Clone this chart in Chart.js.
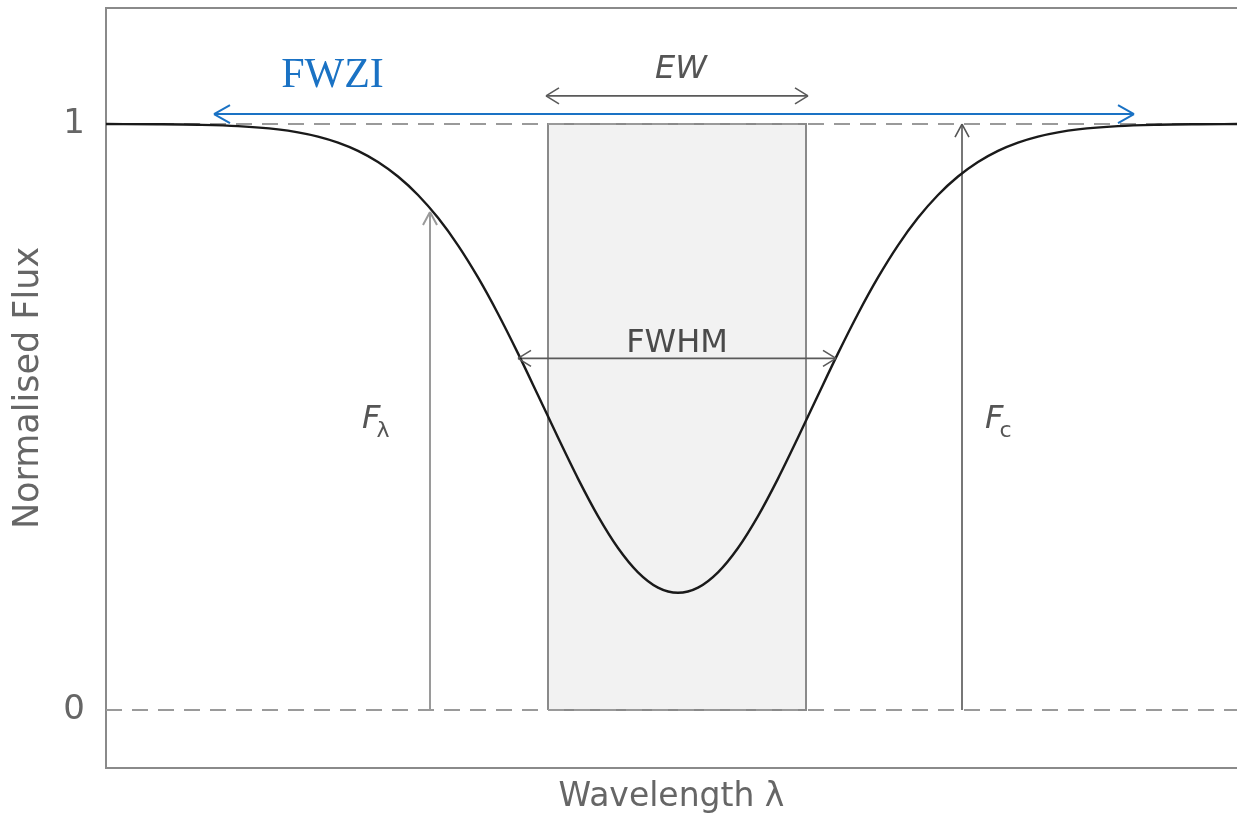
<!DOCTYPE html>
<html>
<head>
<meta charset="utf-8">
<script src="https://cdn.jsdelivr.net/npm/chart.js@4.4.1/dist/chart.umd.min.js"></script>
<style>
  html, body { margin: 0; padding: 0; background: #fff; }
  #wrap { width: 1237px; height: 821px; }
</style>
</head>
<body>
<div id="wrap"><canvas id="lineChart" width="1237" height="821"></canvas></div>
<script>
// absorption line profile, relative wavelength vs normalised flux
const waveX = [-57.2, -52, -48, -44, -40, -38, -36, -34, -32, -30, -28, -26, -24, -22, -20, -18, -16, -14, -12, -10, -8, -6, -4, -2,
    0, 2, 4, 6, 8, 10, 12, 14, 16, 18, 20, 22, 24, 26, 28, 30, 32, 34, 36, 38, 40, 44, 48, 52, 55.9];
const fluxY = [1.000, 0.9996, 0.9987, 0.9964, 0.9908, 0.9858, 0.9786, 0.9683, 0.9542, 0.9352, 0.9104, 0.8789, 0.8399, 0.7930, 0.7382, 0.6763, 0.6086, 0.5372, 0.4649, 0.3949, 0.3309, 0.2765, 0.2350, 0.2089,
    0.200, 0.2089, 0.2350, 0.2765, 0.3309, 0.3949, 0.4649, 0.5372, 0.6086, 0.6763, 0.7382, 0.7930, 0.8399, 0.8789, 0.9104, 0.9352, 0.9542, 0.9683, 0.9786, 0.9858, 0.9908, 0.9964, 0.9987, 0.9996, 1.000];

const yTicks = [0, 1];
const continuum = 1;
const zeroLevel = 0;
const xRange = [-57.2, 55.9];
const yRange = [-0.099, 1.198];

// equivalent width box edges
const ewBox = [-13.0, 12.8];
// arrows: [x0, y0, x1, y1]
const fwziArrow = [-46.4, 1.017, 45.6, 1.017];
const ewArrow = [-13.2, 1.048, 13.0, 1.048];
const fwhmArrow = [-16.0, 0.6, 15.8, 0.6];
const fLambdaArrow = [-24.8, 0, -24.8, 0.85];
const fContArrow = [28.4, 0, 28.4, 1];

const toPts = a => [{x: a[0], y: a[1]}, {x: a[2], y: a[3]}];

const labels = [
    {text: 'FWZI', x: -34.55, y: 1.063, font: '42px "Liberation Serif", serif', color: '#1a72c4'},
    {text: 'EW', x: 0.3, y: 1.0785, font: 'oblique 32px "DejaVu Sans", sans-serif', color: '#555'},
    {text: 'FWHM', x: -0.1, y: 0.611, font: '32px "DejaVu Sans", sans-serif', color: '#4a4a4a'}
];
const subLabels = [
    {main: 'F', sub: 'λ', x: -31.6, y: 0.481, color: '#555'},
    {main: 'F', sub: 'c', x: 30.7, y: 0.481, color: '#555'}
];

// open chevron arrow heads at line ends
const arrowHeads = {
    id: 'arrowHeads',
    afterDatasetsDraw(chart) {
        const ctx = chart.ctx;
        chart.data.datasets.forEach((ds, i) => {
            if (!ds.arrows) return;
            const pts = chart.getDatasetMeta(i).data;
            const a = pts[0], b = pts[pts.length - 1];
            const ends = ds.arrows === 'both' ? [[a, b], [b, a]] : [[b, a]];
            ctx.save();
            ctx.strokeStyle = ds.borderColor;
            ctx.lineWidth = ds.borderWidth;
            ends.forEach(([tip, from]) => {
                const ang = Math.atan2(tip.y - from.y, tip.x - from.x);
                const len = ds.headLen, w = ds.headWidth;
                ctx.beginPath();
                for (const s of [1, -1]) {
                    ctx.moveTo(tip.x - len * Math.cos(ang) + s * w * Math.sin(ang),
                               tip.y - len * Math.sin(ang) - s * w * Math.cos(ang));
                    ctx.lineTo(tip.x, tip.y);
                }
                ctx.stroke();
            });
            ctx.restore();
        });
    }
};

// text labels and top frame line
const annotations = {
    id: 'annotations',
    afterDraw(chart) {
        const ctx = chart.ctx;
        const xs = chart.scales.x, ys = chart.scales.y;
        const area = chart.chartArea;
        ctx.save();
        ctx.strokeStyle = '#8a8a8a';
        ctx.lineWidth = 2;
        ctx.beginPath();
        ctx.moveTo(area.left - 1, area.top);
        ctx.lineTo(area.right, area.top);
        ctx.stroke();

        ctx.textBaseline = 'alphabetic';
        labels.forEach(l => {
            ctx.font = l.font;
            ctx.fillStyle = l.color;
            ctx.textAlign = 'center';
            ctx.fillText(l.text, xs.getPixelForValue(l.x), ys.getPixelForValue(l.y));
        });
        subLabels.forEach(l => {
            const px = xs.getPixelForValue(l.x), py = ys.getPixelForValue(l.y);
            ctx.textAlign = 'left';
            ctx.fillStyle = l.color;
            ctx.font = 'oblique 32px "DejaVu Sans", sans-serif';
            ctx.fillText(l.main, px, py);
            const w = ctx.measureText(l.main).width;
            ctx.font = '22px "DejaVu Sans", sans-serif';
            ctx.fillText(l.sub, px + w - 4, py + 9);
        });
        ctx.restore();
    }
};

const lineDs = (data, color, width, extra) => Object.assign({
    data: data, showLine: true, borderColor: color, borderWidth: width,
    pointRadius: 0, fill: false
}, extra);

const chartConfig = {
    type: 'scatter',
    data: {
        datasets: [
            lineDs(waveX.map((x, i) => ({x: x, y: fluxY[i]})), '#1a1a1a', 2.4,
                {cubicInterpolationMode: 'monotone', order: 0}),
            lineDs(toPts(fwziArrow), '#1a72c4', 2, {arrows: 'both', headLen: 16, headWidth: 9, order: 1}),
            lineDs(toPts(ewArrow), '#5a5a5a', 1.6, {arrows: 'both', headLen: 13, headWidth: 8, order: 1}),
            lineDs(toPts(fwhmArrow), '#5a5a5a', 1.6, {arrows: 'both', headLen: 13, headWidth: 8, order: 1}),
            lineDs(toPts(fLambdaArrow), '#9a9a9a', 2, {arrows: 'end', headLen: 13, headWidth: 7, order: 1}),
            lineDs(toPts(fContArrow), '#555', 1.6, {arrows: 'end', headLen: 13, headWidth: 7, order: 1}),
            lineDs([{x: xRange[0], y: continuum}, {x: xRange[1], y: continuum}], '#9a9a9a', 2,
                {borderDash: [16, 10], order: 2}),
            lineDs([{x: xRange[0], y: zeroLevel}, {x: xRange[1], y: zeroLevel}], '#9a9a9a', 2,
                {borderDash: [16, 10], order: 2}),
            // EW box outline
            lineDs([{x: ewBox[0], y: zeroLevel}, {x: ewBox[0], y: continuum}, {x: ewBox[1], y: continuum},
                    {x: ewBox[1], y: zeroLevel}, {x: ewBox[0], y: zeroLevel}], '#8a8a8a', 2, {order: 3}),
            // EW box shading
            lineDs([{x: ewBox[0], y: continuum}, {x: ewBox[1], y: continuum}], 'rgba(0,0,0,0)', 0,
                {fill: 'origin', backgroundColor: '#f2f2f2', order: 4})
        ]
    },
    options: {
        responsive: false,
        animation: false,
        devicePixelRatio: 1,
        layout: {padding: {top: 8, right: 0, left: 0, bottom: 0}},
        plugins: {legend: {display: false}, tooltip: {enabled: false}},
        scales: {
            x: {
                type: 'linear',
                min: xRange[0],
                max: xRange[1],
                grid: {display: false, drawTicks: false},
                border: {display: true, color: '#8a8a8a', width: 2},
                ticks: {display: false},
                title: {
                    display: true, text: 'Wavelength λ', color: '#666',
                    font: {family: 'DejaVu Sans', size: 33}, padding: {top: 4, bottom: 4}
                },
                afterFit(axis) {
                    axis.height = 53;
                    axis.paddingLeft = 0;
                    axis.paddingRight = 0;
                }
            },
            y: {
                min: yRange[0],
                max: yRange[1],
                grid: {display: false, drawTicks: false},
                border: {display: true, color: '#8a8a8a', width: 2},
                afterBuildTicks(axis) { axis.ticks = yTicks.map(v => ({value: v})); },
                ticks: {
                    color: '#666', padding: 21,
                    font: {family: 'DejaVu Sans', size: 34}
                },
                title: {
                    display: true, text: 'Normalised Flux', color: '#666',
                    font: {family: 'DejaVu Sans', size: 35}, padding: {top: 8, bottom: 8}
                },
                afterFit(axis) {
                    axis.width = 106;
                    axis.paddingTop = 0;
                    axis.paddingBottom = 0;
                }
            }
        }
    },
    plugins: [arrowHeads, annotations]
};

const lineChart = new Chart(document.getElementById('lineChart').getContext('2d'), chartConfig);
</script>
</body>
</html>
